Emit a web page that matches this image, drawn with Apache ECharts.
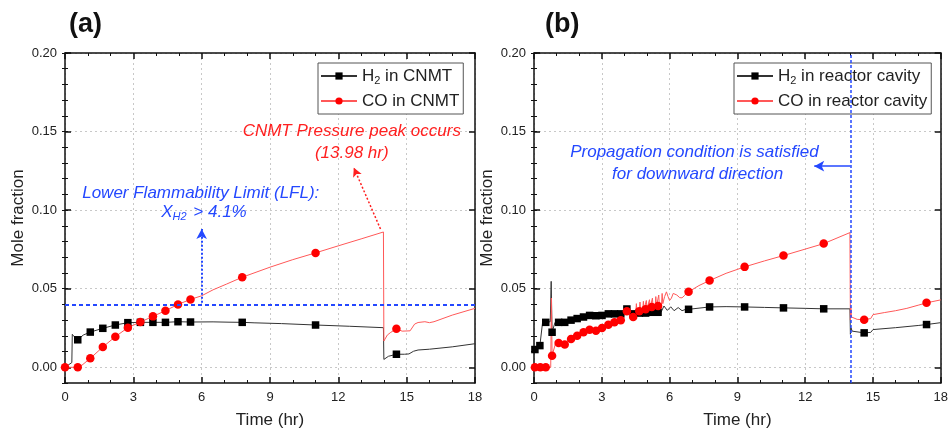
<!DOCTYPE html>
<html><head><meta charset="utf-8">
<script src="https://cdn.jsdelivr.net/npm/echarts@6/dist/echarts.min.js"></script>
<style>html,body{margin:0;padding:0;background:#fff}#c{width:951px;height:435px}</style>
</head><body><div id="c"></div>
<script>
// ---------- data ----------
const yTickValues = [0, 0.05, 0.10, 0.15, 0.20];

// Panel (a): CNMT
const h2aLine = [[0,0],[0.15,0.0015],[0.3,0.003],[0.32,0.021],[0.4,0.0195],[0.8,0.0205],[6.5,0.0289],[7.2,0.0287],[8.3,0.0283],[9.5,0.0278],[12.5,0.0261],[13.98,0.0252],[14.0,0.005],[14.2,0.007],[14.9,0.0083],[15.1,0.0085],[15.3,0.0102],[15.5,0.011],[16,0.0115],[17,0.013],[18,0.015]];
const h2aMarks = [[0.56,0.0175],[1.11,0.0224],[1.66,0.0248],[2.21,0.0269],[2.76,0.0284],[3.31,0.0286],[3.86,0.0286],[4.41,0.0286],[4.96,0.029],[5.51,0.0288],[7.78,0.0286],[11.0,0.0269],[14.55,0.0083]];
const coaLine = [[0.7,0.0008],[6.0,0.0455],[6.5,0.0493],[7.1,0.053],[9,0.0637],[10,0.0685],[12,0.0773],[13,0.0817],[13.98,0.0861],[14.0,0.0167],[14.15,0.0205],[14.3,0.0222],[14.8,0.023],[15.15,0.0232],[15.35,0.0275],[15.5,0.0285],[15.8,0.029],[16.0,0.0284],[16.2,0.029],[17,0.0332],[18,0.0375]];
const coaMarks = [[0,0],[0.56,0],[1.11,0.0057],[1.66,0.0129],[2.21,0.0195],[2.76,0.0252],[3.31,0.0288],[3.86,0.0324],[4.41,0.036],[4.96,0.04],[5.51,0.0432],[7.78,0.0573],[11.0,0.0728],[14.55,0.0245]];

// Panel (b): reactor cavity
const h2bLine = [[0,0.01],[0.34,0.0145],[0.38,0.0286],[0.72,0.029],[0.76,0.0547],[0.93,0.0286],[5.62,0.035],[5.75,0.039],[5.9,0.0362],[6.05,0.0385],[6.2,0.036],[6.38,0.038],[6.55,0.036],[6.7,0.0368],[8.5,0.0386],[10.2,0.0381],[12,0.0375],[13.98,0.0372],[14.0,0.021],[14.03,0.025],[14.08,0.023],[14.9,0.0222],[15.0,0.024],[16,0.0252],[17,0.0266],[18,0.0284]];
const h2bMarks = [[0.04,0.0113],[0.26,0.0138],[0.52,0.0286],[0.8,0.0223],[1.09,0.0286],[1.36,0.0286],[1.64,0.030],[1.91,0.031],[2.19,0.032],[2.46,0.033],[2.74,0.0328],[3.01,0.033],[3.29,0.034],[3.56,0.034],[3.84,0.034],[4.11,0.0371],[4.39,0.034],[4.66,0.0345],[4.94,0.0345],[5.21,0.035],[5.49,0.035],[6.84,0.0369],[7.77,0.0384],[9.32,0.0384],[11.04,0.0378],[12.82,0.0372],[14.61,0.0219],[17.37,0.0272]];
const cobLine = [[0,0],[0.74,0],[0.77,0.0441],[0.95,0.015],
 [4.5,0.0335],[4.53,0.0405],[4.56,0.0342],[4.69,0.0415],[4.72,0.0358],[4.81,0.0362],[4.84,0.042],[4.87,0.0366],
 [4.97,0.0425],[5.0,0.0372],[5.08,0.0375],[5.11,0.043],[5.14,0.0378],[5.24,0.044],[5.27,0.0385],[5.36,0.0386],
 [5.39,0.045],[5.42,0.0388],[5.52,0.046],[5.55,0.039],[5.64,0.0392],[5.67,0.047],[5.7,0.0405],
 [5.78,0.045],[5.86,0.048],[5.93,0.045],[6.0,0.0425],[6.08,0.044],[6.16,0.047],[6.23,0.048],[6.32,0.046],[6.45,0.0443],[6.55,0.0442],[6.65,0.0455],[6.75,0.0472],
 [7.3,0.052],[8.5,0.0598],[10.2,0.0677],[12,0.0752],[13.98,0.0857],[14.0,0.030],[14.02,0.038],[14.05,0.032],[14.3,0.0305],[14.9,0.031],[15.0,0.0335],[15.5,0.0348],[16,0.036],[16.5,0.0375],[17,0.0395],[18,0.0429]];
const cobMarks = [[0.04,0],[0.28,0],[0.52,0],[0.8,0.0074],[1.09,0.0155],[1.36,0.0145],[1.64,0.018],[1.91,0.020],[2.19,0.0223],[2.46,0.0239],[2.74,0.0233],[3.01,0.025],[3.29,0.027],[3.56,0.0286],[3.84,0.030],[4.11,0.0357],[4.39,0.032],[4.66,0.0357],[4.94,0.037],[5.21,0.0384],[5.49,0.039],[6.84,0.048],[7.77,0.0552],[9.32,0.0639],[11.04,0.0711],[12.82,0.0787],[14.61,0.0303],[17.37,0.041]];

const namesA = ['H2 in CNMT', 'CO in CNMT'];
const namesB = ['H2 in reactor cavity', 'CO in reactor cavity'];

// annotation anchors (data coords)
const lfl = 0.041;
const peakTime = 14;

// ---------- chart ----------
const FONT = '"Liberation Sans", Arial, sans-serif';
const BLUE = '#2448ff', RED = '#ff2020';
const chart = echarts.init(document.getElementById('c'), null, {renderer: 'canvas'});

function build(line, marks) {
  const all = line.map(p => ({value: p, symbol: 'none'})).concat(marks.map(p => ({value: p})));
  all.sort((a, b) => a.value[0] - b.value[0]);
  return all;
}

function xAxes(grid) {
  const common = {type: 'value', gridIndex: grid, min: 0, max: 18, interval: 3,
    axisLine: {show: true, onZero: false, lineStyle: {color: '#111', width: 1.5}},
    axisTick: {show: true, inside: true, length: 6, lineStyle: {color: '#111', width: 1.5}},
    minorTick: {show: true, splitNumber: 3, length: 3, lineStyle: {color: '#111', width: 1}}};
  return [
    Object.assign({}, common, {position: 'bottom',
      axisLabel: {color: '#222', fontSize: 13, fontFamily: FONT, margin: 8},
      splitLine: {show: true, lineStyle: {color: '#c8c8c8', type: [2, 3], width: 1}},
      name: 'Time (hr)', nameLocation: 'middle', nameGap: 29,
      nameTextStyle: {fontSize: 17, color: '#222', fontFamily: FONT}}),
    Object.assign({}, common, {position: 'top', axisLabel: {show: false}, splitLine: {show: false}})
  ];
}
function yAxes(grid) {
  const major = {type: 'value', gridIndex: grid, min: -0.01, max: 0.2, splitNumber: 4,
    axisLine: {show: true, onZero: false, lineStyle: {color: '#111', width: 1.5}},
    axisTick: {show: true, inside: true, length: 6, customValues: yTickValues, lineStyle: {color: '#111', width: 1.5}}};
  const minor = {type: 'value', gridIndex: grid, min: -0.01, max: 0.2, interval: 0.01,
    axisLine: {show: false}, axisLabel: {show: false}, splitLine: {show: false},
    axisTick: {show: true, inside: true, length: 3, lineStyle: {color: '#111', width: 1}}};
  return [
    Object.assign({}, major, {position: 'left',
      axisLabel: {color: '#222', fontSize: 13, fontFamily: FONT, margin: 8, customValues: yTickValues,
        formatter: v => v < -1e-9 ? '' : v.toFixed(2)},
      splitLine: {show: true, lineStyle: {color: '#c8c8c8', type: [2, 3], width: 1}},
      name: 'Mole fraction', nameLocation: 'middle', nameGap: 38,
      nameTextStyle: {fontSize: 17, color: '#222', fontFamily: FONT}}),
    Object.assign({}, minor, {position: 'left'}),
    Object.assign({}, major, {position: 'right', axisLabel: {show: false}, splitLine: {show: false}}),
    Object.assign({}, minor, {position: 'right'})
  ];
}

function series(name, data, xi, yi, color, lineColor, symbol, size, extra) {
  return Object.assign({type: 'line', name, data, xAxisIndex: xi, yAxisIndex: yi,
    symbol, symbolSize: size, showAllSymbol: true, itemStyle: {color},
    lineStyle: {color: lineColor, width: 1}, emphasis: {disabled: true}, animation: false}, extra || {});
}

const mlBase = {silent: true, symbol: ['none', 'none'], label: {show: false}, animation: false};

const legendRich = {sub: {fontSize: 11, padding: [9, 0, 0, 0], color: '#222', fontFamily: FONT}};
function legend(names, left) {
  return {data: names, orient: 'vertical', left, top: 63, itemWidth: 36, itemHeight: 9, itemGap: 5,
    padding: [3, 4, 3, 2], borderColor: '#555', borderWidth: 1, backgroundColor: '#fff',
    selectedMode: false,
    textStyle: {fontSize: 17, color: '#222', fontFamily: FONT, lineHeight: 20, rich: legendRich},
    formatter: n => n.replace(/^H2/, 'H{sub|2}')};
}

const option = {
  animation: false,
  textStyle: {fontFamily: FONT},
  title: [
    {text: '(a)', left: 69, top: 11, padding: 0, textStyle: {fontSize: 27, fontWeight: 'bold', color: '#111', fontFamily: FONT}},
    {text: '(b)', left: 545, top: 11, padding: 0, textStyle: {fontSize: 27, fontWeight: 'bold', color: '#111', fontFamily: FONT}}
  ],
  grid: [
    {left: 65, top: 53, width: 410, height: 330, containLabel: false},
    {left: 534, top: 53, width: 408, height: 330, containLabel: false}
  ],
  xAxis: xAxes(0).concat(xAxes(1)),
  yAxis: yAxes(0).concat(yAxes(1)),
  legend: [legend(namesA, 318), legend(namesB, 734)],
  series: [
    series(namesA[0], build(h2aLine, h2aMarks), 0, 0, '#000', '#333', 'rect', 7.5, {
      markLine: Object.assign({}, mlBase, {data: [
        {yAxis: lfl, lineStyle: {color: BLUE, type: [4, 3], width: 2}},
        [{coord: [6, lfl], lineStyle: {color: BLUE, type: [2, 2], width: 2}},
         {coord: [6, 0.088], symbol: 'arrow', symbolSize: [8, 10]}],
        [{coord: [13.85, 0.088], lineStyle: {color: RED, type: [2, 2], width: 1.5}},
         {coord: [12.68, 0.127], symbol: 'arrow', symbolSize: [7, 9]}]
      ]})}),
    series(namesA[1], build(coaLine, coaMarks), 0, 0, '#ff0000', '#ff5858', 'circle', 8.5),
    series(namesB[0], build(h2bLine, h2bMarks), 2, 4, '#000', '#333', 'rect', 7.5, {
      markLine: Object.assign({}, mlBase, {data: [
        {xAxis: peakTime, lineStyle: {color: BLUE, type: [3, 2], width: 1.5}},
        [{coord: [peakTime, 0.128], lineStyle: {color: BLUE, type: 'solid', width: 1.5}},
         {coord: [12.4, 0.128], symbol: 'arrow', symbolSize: [8, 10]}]
      ]})}),
    series(namesB[1], build(cobLine, cobMarks), 2, 4, '#ff0000', '#ff5858', 'circle', 8.5)
  ]
};
chart.setOption(option);

// text annotations anchored to data coordinates
function px(si, x, y) { return chart.convertToPixel({seriesIndex: si}, [x, y]); }
function txt(p, text, color, extra) {
  return Object.assign({type: 'text', x: p[0], y: p[1], silent: true, z: 100,
    style: {text, fill: color, font: 'italic 17px ' + FONT, align: 'center', verticalAlign: 'middle'}}, extra || {});
}
const pA1 = px(0, 12.59, 0.150), pA2 = px(0, 12.59, 0.1365);
const pL1 = px(0, 5.96, 0.111), pL2 = px(0, 6.1, 0.0984);
const pB1 = px(2, 7.1, 0.1366), pB2 = px(2, 7.24, 0.123);
const xh2 = txt(pL2, '', BLUE);
xh2.style = {text: '{x|X}{s|H2}{t| > 4.1%}', align: 'center', verticalAlign: 'middle',
  rich: {x: {fill: BLUE, font: 'italic 17px ' + FONT},
         s: {fill: BLUE, font: 'italic 11px ' + FONT, padding: [9, 2, 0, 0]},
         t: {fill: BLUE, font: 'italic 17px ' + FONT}}};
chart.setOption({graphic: [
  txt(pA1, 'CNMT Pressure peak occurs', RED),
  txt(pA2, '(13.98 hr)', RED),
  txt(pL1, 'Lower Flammability Limit (LFL):', BLUE),
  xh2,
  txt(pB1, 'Propagation condition is satisfied', BLUE),
  txt(pB2, 'for downward direction', BLUE)
]});
</script>
</body></html>
